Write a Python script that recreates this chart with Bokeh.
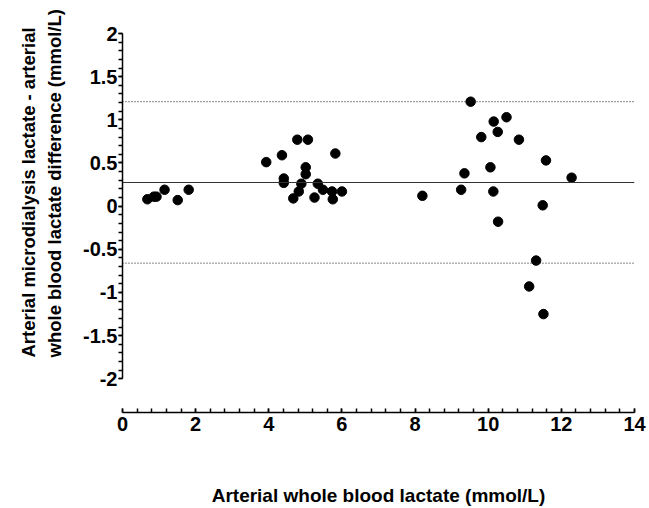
from bokeh.plotting import figure
from bokeh.models import (Range1d, LinearAxis, SingleIntervalTicker, Span, Title,
                          CustomJSTickFormatter, ColumnDataSource)
from bokeh.embed import file_html
from bokeh.resources import INLINE

# Data (Bland-Altman style plot)
blood_lactate = [0.68, 0.86, 0.93, 1.15, 1.51, 1.81,
                 3.93, 4.36, 4.41, 4.41, 4.78, 5.07, 5.01, 5.01, 4.89, 4.82, 4.67,
                 5.25, 5.34, 5.48, 5.73, 5.75, 5.82, 6.00,
                 8.20, 9.52, 9.35, 9.26, 9.81, 10.15, 10.50, 10.26, 10.06, 10.14,
                 10.27, 10.84, 11.58, 12.28, 11.49, 11.31, 11.12, 11.51]
difference = [0.08, 0.11, 0.11, 0.19, 0.07, 0.19,
              0.51, 0.59, 0.32, 0.27, 0.77, 0.77, 0.45, 0.37, 0.26, 0.17, 0.09,
              0.10, 0.26, 0.19, 0.17, 0.08, 0.61, 0.17,
              0.12, 1.21, 0.38, 0.19, 0.80, 0.98, 1.03, 0.86, 0.45, 0.17,
              -0.18, 0.77, 0.53, 0.33, 0.01, -0.63, -0.93, -1.25]
mean_diff = 0.274
upper_loa = 1.21
lower_loa = -0.66

x_title = "Arterial whole blood lactate (mmol/L)"
y_title = ("Arterial microdialysis lactate  -  arterial\n"
           "whole blood lactate difference (mmol/L)")

FONT = "Liberation Sans"

p = figure(width=649, height=508, output_backend="svg", toolbar_location=None,
           x_range=Range1d(0, 14), y_range=Range1d(-2.39, 2.0),
           x_axis_type=None, y_axis_type=None,
           min_border_left=122, min_border_right=15, min_border_top=33,
           min_border_bottom=95)
p.outline_line_color = None
p.xgrid.visible = False
p.ygrid.visible = False
p.background_fill_color = "white"
p.border_fill_color = "white"

# x axis
xax = LinearAxis(ticker=SingleIntervalTicker(interval=2, num_minor_ticks=5), bounds=(0, 14))
xax.axis_line_width = 1.5
xax.axis_line_color = "black"
xax.major_tick_in = 4
xax.major_tick_out = 0
xax.minor_tick_in = 4
xax.minor_tick_out = 0
xax.major_tick_line_width = 1.5
xax.minor_tick_line_width = 1.5
xax.major_label_standoff = 4
xax.major_label_text_font = FONT
xax.major_label_text_font_style = "bold"
xax.major_label_text_font_size = "20px"
xax.major_label_text_color = "black"
xax.axis_label = x_title
xax.axis_label_text_font = FONT
xax.axis_label_text_font_style = "bold"
xax.axis_label_text_font_size = "19px"
xax.axis_label_text_color = "black"
xax.axis_label_standoff = 51
p.add_layout(xax, "below")

# y axis
yax = LinearAxis(ticker=SingleIntervalTicker(interval=0.5, num_minor_ticks=5), bounds=(-2, 2))
yax.formatter = CustomJSTickFormatter(code="return Number(tick.toFixed(2)).toString();")
yax.axis_line_width = 1.5
yax.axis_line_color = "black"
yax.major_tick_in = 0
yax.major_tick_out = 4
yax.minor_tick_in = 0
yax.minor_tick_out = 4
yax.major_tick_line_width = 1.5
yax.minor_tick_line_width = 1.5
yax.major_label_standoff = 1
yax.major_label_text_font = FONT
yax.major_label_text_font_style = "bold"
yax.major_label_text_font_size = "20px"
yax.major_label_text_color = "black"
p.add_layout(yax, "left")

# y-axis title (two lines) placed on the left side
yt = Title(text=y_title, align="left", offset=55, standoff=31,
           text_font=FONT, text_font_style="bold", text_font_size="18.5px",
           text_line_height=1.25, text_color="black")
p.add_layout(yt, "left")

# mean and limits of agreement
p.add_layout(Span(location=mean_diff, dimension="width", line_color="#333333", line_width=1))
for loa in (upper_loa, lower_loa):
    p.add_layout(Span(location=loa, dimension="width", line_color="#111111",
                      line_width=1, line_dash="1 2"))

src = ColumnDataSource(dict(x=blood_lactate, y=difference))
p.scatter("x", "y", source=src, size=9.5, fill_color="black", line_color="black")

open("out.html", "w").write(file_html(p, INLINE))
